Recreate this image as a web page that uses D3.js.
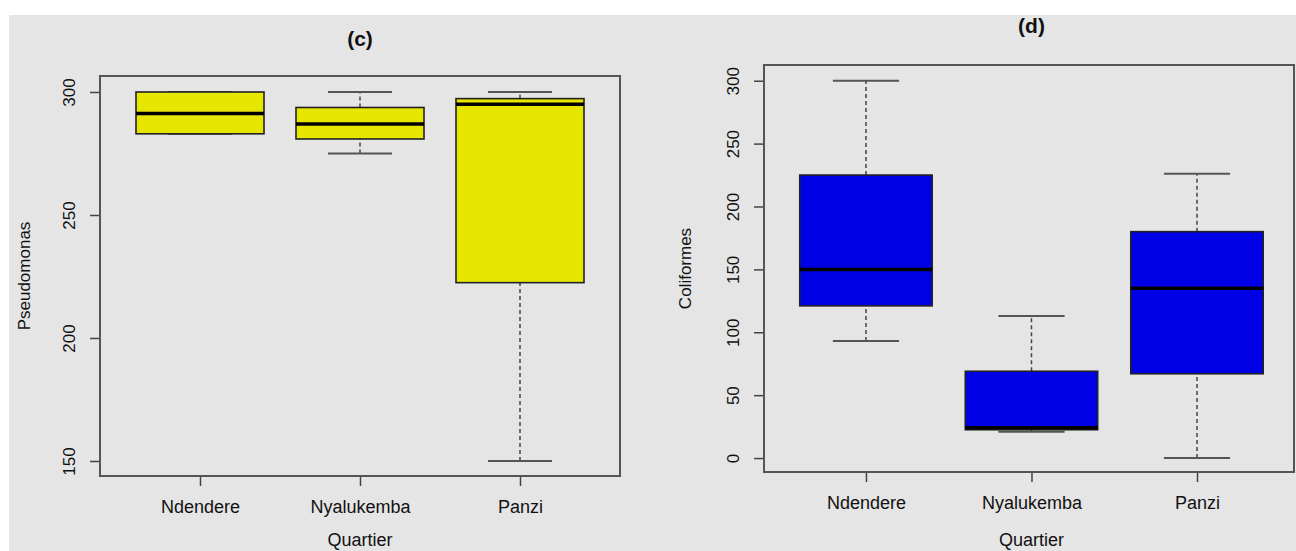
<!DOCTYPE html>
<html>
<head>
<meta charset="utf-8">
<script src="https://cdn.jsdelivr.net/npm/d3@7"></script>
<style>
  body { margin: 0; background: #fff; }
  svg { display: block; font-family: "Liberation Sans", Arial, sans-serif; }
  .frame { fill: none; stroke: #555; stroke-width: 2; }
  .box { stroke: #222; stroke-width: 1.6; }
  .median { stroke: #000; stroke-width: 3.5; }
  .whisker { stroke: #444; stroke-width: 1.5; stroke-dasharray: 4,3; }
  .cap { stroke: #555; stroke-width: 2; }
  .axis path { display: none; }
  .axis line { stroke: #444; stroke-width: 1.5; }
  .axis text { fill: #111; }
</style>
</head>
<body>
<div id="chart"></div>
<script>
// quartiers (x categories)
var quartiers = ["Ndendere", "Nyalukemba", "Panzi"];

// five number summaries: [min, q1, median, q3, max]
var pseudomonas = [
  [283, 283, 291.3, 300, 300],
  [275, 280.9, 287, 293.7, 300],
  [150, 222.5, 295, 297.3, 300]
];
var coliformes = [
  [93, 121, 150, 225, 300],
  [21, 22.5, 24, 69, 113],
  [0, 67, 135, 180, 226]
];

var pseudoTicks = [150, 200, 250, 300];
var coliTicks = [0, 50, 100, 150, 200, 250, 300];

var W = 1296, H = 551;

var svg = d3.select("#chart")
  .append("svg")
  .attr("width", W)
  .attr("height", H);

// grey panel background
svg.append("rect")
  .attr("x", 9).attr("y", 15)
  .attr("width", W - 9).attr("height", H - 15)
  .attr("fill", "#e5e5e5");

function drawPanel(opt) {
  var g = svg.append("g");

  var x = d3.scaleLinear().domain(opt.xlim).range([opt.left, opt.right]);
  var y = d3.scaleLinear().domain(opt.ylim).range([opt.bottom, opt.top]);
  var half = x(1.4) - x(1);
  var capHalf = x(1.2) - x(1);

  // y axis, labels rotated like R
  var yAxis = d3.axisLeft(y).tickValues(opt.ticks).tickSize(10).tickFormat(d3.format("d"));
  var gy = g.append("g")
    .attr("class", "axis")
    .attr("transform", "translate(" + opt.left + ",0)")
    .call(yAxis);
  gy.selectAll("text")
    .attr("transform", "rotate(-90)")
    .attr("x", 0)
    .attr("y", -25)
    .attr("dy", 0)
    .attr("text-anchor", "middle")
    .style("font-size", "17px");

  var xAxis = d3.axisBottom(x).tickValues([1, 2, 3]).tickSize(10)
    .tickFormat(function (d) { return quartiers[d - 1]; });
  var gx = g.append("g")
    .attr("class", "axis")
    .attr("transform", "translate(0," + opt.bottom + ")")
    .call(xAxis);
  gx.selectAll("text")
    .attr("y", 37)
    .attr("dy", 0)
    .style("font-size", "18px");

  var boxes = g.selectAll(".grp")
    .data(opt.data)
    .enter()
    .append("g")
    .attr("class", "grp");

  //whiskers
  boxes.append("line")
    .attr("class", "whisker")
    .attr("x1", function (d, i) { return x(i + 1); })
    .attr("x2", function (d, i) { return x(i + 1); })
    .attr("y1", function (d) { return y(d[3]); })
    .attr("y2", function (d) { return y(d[4]); });
  boxes.append("line")
    .attr("class", "whisker")
    .attr("x1", function (d, i) { return x(i + 1); })
    .attr("x2", function (d, i) { return x(i + 1); })
    .attr("y1", function (d) { return y(d[0]); })
    .attr("y2", function (d) { return y(d[1]); });

  // caps
  [0, 4].forEach(function (k) {
    boxes.append("line")
      .attr("class", "cap")
      .attr("x1", function (d, i) { return x(i + 1) - capHalf; })
      .attr("x2", function (d, i) { return x(i + 1) + capHalf; })
      .attr("y1", function (d) { return y(d[k]); })
      .attr("y2", function (d) { return y(d[k]); });
  });

  boxes.append("rect")
    .attr("class", "box")
    .attr("fill", opt.color)
    .attr("x", function (d, i) { return x(i + 1) - half; })
    .attr("width", 2 * half)
    .attr("y", function (d) { return y(d[3]); })
    .attr("height", function (d) { return y(d[1]) - y(d[3]); });

  boxes.append("line")
    .attr("class", "median")
    .attr("x1", function (d, i) { return x(i + 1) - half; })
    .attr("x2", function (d, i) { return x(i + 1) + half; })
    .attr("y1", function (d) { return y(d[2]); })
    .attr("y2", function (d) { return y(d[2]); });

  g.append("rect")
    .attr("class", "frame")
    .attr("x", opt.left).attr("y", opt.top)
    .attr("width", opt.right - opt.left)
    .attr("height", opt.bottom - opt.top);

  var cx = (x(2));
  g.append("text")
    .attr("x", cx).attr("y", opt.titleY)
    .attr("text-anchor", "middle")
    .style("font-size", "21px")
    .style("font-weight", "bold")
    .attr("fill", "#111")
    .text(opt.title);

  // x label sits at the very bottom edge, kept just inside
  g.append("text")
    .attr("x", cx).attr("y", 546)
    .attr("text-anchor", "middle")
    .style("font-size", "18px")
    .attr("fill", "#111")
    .text("Quartier");

  g.append("text")
    .attr("transform", "translate(" + opt.ylabX + "," + ((opt.top + opt.bottom) / 2) + ") rotate(-90)")
    .attr("text-anchor", "middle")
    .style("font-size", "17px")
    .attr("fill", "#111")
    .text(opt.ylab);
}

drawPanel({
  data: pseudomonas, ticks: pseudoTicks, color: "#e6e600",
  xlim: [0.375, 3.625], ylim: [143.9, 306.5],
  left: 100, right: 620, top: 76, bottom: 476,
  title: "(c)", titleY: 46, ylab: "Pseudomonas", ylabX: 30
});

drawPanel({
  data: coliformes, ticks: coliTicks, color: "#0000e6",
  xlim: [0.384, 3.586], ylim: [-11.1, 312.5],
  left: 764, right: 1294, top: 65, bottom: 472,
  title: "(d)", titleY: 33, ylab: "Coliformes", ylabX: 691
});
</script>
</body>
</html>
